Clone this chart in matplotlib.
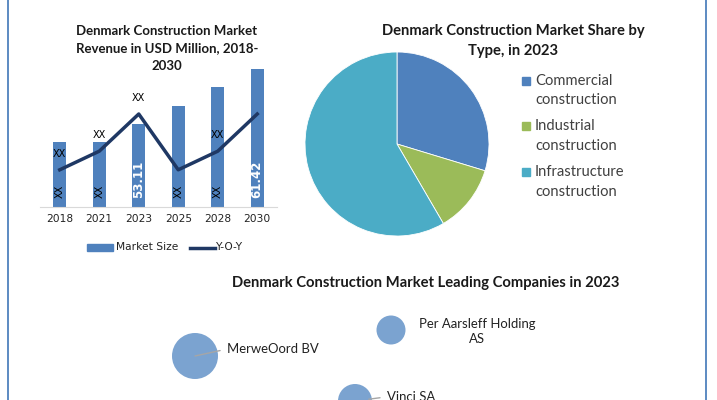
import matplotlib
matplotlib.use("Agg")
import matplotlib.pyplot as plt
from matplotlib.patches import Rectangle, Circle
from matplotlib.lines import Line2D

# ---------------- data ----------------
years = ["2018", "2021", "2023", "2025", "2028", "2030"]
market_size = [50.4, 50.4, 53.11, 55.8, 58.7, 61.42]
yoy = [2.0, 3.0, 5.0, 2.0, 3.0, 5.0]
top_labels = ["XX", "XX", "XX", "", "XX", ""]
bar_labels = ["XX", "XX", "53.11", "XX", "XX", "61.42"]

share_types = ["Commercial\nconstruction", "Industrial\nconstruction", "Infrastructure\nconstruction"]
share_values = [29.7, 11.9, 58.4]
share_colors = ["#4F81BD", "#9BBB59", "#4BACC6"]

companies = ["MerweOord BV", "Per Aarsleff Holding\nAS", "Vinci SA"]
company_x = [0.9, 4.82, 4.1]
company_y = [0.88, 1.4, -0.02]
company_size = [0.46, 0.29, 0.34]

# ---------------- figure ----------------
W, H = 717, 400
fig = plt.figure(figsize=(7.17, 4.0), dpi=100)
fig.patch.set_facecolor("white")
renderer = fig.canvas.get_renderer()

def fx(px):
    return px / W

def fy(py):
    return 1 - py / H

def fit(t, target_w):
    w = t.get_window_extent(renderer).width
    t.set_fontsize(t.get_fontsize() * target_w / w)
    return t

def fit_size(text, target_w, family, weight="normal"):
    t = fig.text(0, 0, text, fontsize=10, family=family, fontweight=weight)
    w = t.get_window_extent(renderer).width
    t.remove()
    return 10 * target_w / w

TITLE_FONT = "Lato"
BODY_FONT = "Lato"
BLUE = "#4F81BD"
NAVY = "#1F3864"

# border lines
for xpx in (7.5, 706):
    fig.add_artist(Line2D([fx(xpx), fx(xpx)], [0, 1], color=BLUE, lw=1.3))

# ---------------- bar + line chart ----------------
ax = fig.add_axes([fx(40), fy(207), 237 / W, 147 / H])
x = list(range(len(years)))
ax.bar(x, market_size, width=0.33, color=BLUE, zorder=2)
ylo = 40.57
ax.set_ylim(ylo, ylo + 147 / 6.62)
ax.set_xlim(-0.5, 5.5)
for s in ("top", "left", "right"):
    ax.spines[s].set_visible(False)
ax.spines["bottom"].set_color("#d9d9d9")
ax.set_yticks([])
ax.set_xticks(x)
ax.set_xticklabels(years, fontsize=7.7, family="DejaVu Sans", color="#222222")
ax.tick_params(axis="x", length=0, pad=5)

for i, lbl in enumerate(bar_labels):
    if lbl == "XX":
        ax.annotate(lbl, (i, ylo), xytext=(0, 6.5), textcoords="offset points",
                    rotation=90, ha="center", va="bottom", fontsize=7,
                    family="DejaVu Sans", color="black", zorder=5)
    else:
        ax.annotate(lbl, (i, ylo), xytext=(0, 6.5), textcoords="offset points",
                    rotation=90, ha="center", va="bottom", fontsize=8.5,
                    fontweight="bold", family="DejaVu Sans", color="white", zorder=5)

ax2 = ax.twinx()
ax2.plot(x, yoy, color=NAVY, lw=2.5, zorder=3)
ax2.set_ylim(0, 147 / 18.6)
ax2.set_yticks([])
for s in ("top", "left", "right", "bottom"):
    ax2.spines[s].set_visible(False)
for i, lbl in enumerate(top_labels):
    if lbl:
        ax2.annotate(lbl, (i, yoy[i]), xytext=(0, 11.5), textcoords="offset points",
                     ha="center", va="center", fontsize=7, family="DejaVu Sans", color="black")

# bar chart title
t1_lines = ["Denmark Construction Market", "Revenue in USD Million, 2018-", "2030"]
t1_y = [31, 48, 66]
fs1 = fit_size(t1_lines[0], 181, TITLE_FONT, "bold")
for ln, yy in zip(t1_lines, t1_y):
    fig.text(fx(167), fy(yy), ln, ha="center", va="center", fontsize=fs1,
             fontweight="bold", family=TITLE_FONT, color="#1a1a1a")

# bar chart legend
fig.add_artist(Rectangle((fx(87), fy(251)), 26 / W, 7 / H, color=BLUE, transform=fig.transFigure))
fig.text(fx(116), fy(247.5), "Market Size", ha="left", va="center", fontsize=7.7,
         family="DejaVu Sans", color="#222222")
fig.add_artist(Line2D([fx(190), fx(215)], [fy(247.5), fy(247.5)], color=NAVY, lw=2.5))
fig.text(fx(216), fy(247.5), "Y-O-Y", ha="left", va="center", fontsize=7.7,
         family="DejaVu Sans", color="#222222")

# ---------------- pie chart ----------------
axp = fig.add_axes([fx(305), fy(236), 184 / W, 184 / H])
axp.pie(share_values, colors=share_colors, startangle=90, counterclock=False,
        wedgeprops=dict(edgecolor="white", linewidth=0.6))
axp.set_xlim(-1, 1)
axp.set_ylim(-1, 1)
axp.set_aspect("equal")

t2_lines = ["Denmark Construction Market Share by", "Type, in 2023"]
fs2 = fit_size(t2_lines[0], 262, TITLE_FONT, "bold")
for ln, yy in zip(t2_lines, [31, 51]):
    fig.text(fx(513), fy(yy), ln, ha="center", va="center", fontsize=fs2,
             fontweight="bold", family=TITLE_FONT, color="#1a1a1a")

leg_y = [81, 126, 172]
leg_fs = fit_size("Commercial", 77, BODY_FONT)
for lbl, col, yy in zip(share_types, share_colors, leg_y):
    fig.add_artist(Rectangle((fx(522), fy(yy + 4)), 8 / W, 8 / H, color=col,
                             transform=fig.transFigure))
    l1, l2 = lbl.split("\n")
    fig.text(fx(535), fy(yy), l1, ha="left", va="center", fontsize=leg_fs,
             family=BODY_FONT, color="#404040")
    fig.text(fx(535), fy(yy + 19.5), l2, ha="left", va="center", fontsize=leg_fs,
             family=BODY_FONT, color="#404040")

# ---------------- bubble chart ----------------
fs3 = fit_size("Denmark Construction Market Leading Companies in 2023", 386, TITLE_FONT, "bold")
fig.text(fx(426), fy(283), "Denmark Construction Market Leading Companies in 2023",
         ha="center", va="center", fontsize=fs3, fontweight="bold",
         family=TITLE_FONT, color="#1a1a1a")

axb = fig.add_axes([fx(150), fy(400), 500 / W, 100 / H])
axb.set_xlim(0, 10)
axb.set_ylim(0, 2)
axb.axis("off")
for cx, cy, r in zip(company_x, company_y, company_size):
    axb.add_patch(Circle((cx, cy), r, facecolor="#7BA3D0", edgecolor="none", clip_on=False))

lab_fs = fit_size(companies[0], 92, BODY_FONT)
# MerweOord BV
axb.annotate(companies[0], (company_x[0], company_y[0]), xytext=(23, 5),
             textcoords="offset points", ha="left", va="center", fontsize=lab_fs,
             family=BODY_FONT, color="#222222",
             arrowprops=dict(arrowstyle="-", color="#a6a6a6", lw=1,
                             shrinkA=3, shrinkB=0, relpos=(0, 0.5)),
             annotation_clip=False)
# Per Aarsleff
axb.annotate(companies[1], (company_x[1], company_y[1]), xytext=(62, -1),
             textcoords="offset points", ha="center", va="center", fontsize=lab_fs,
             family=BODY_FONT, color="#222222", multialignment="center",
             linespacing=1.25, annotation_clip=False)
# Vinci SA
axb.annotate(companies[2], (company_x[2], company_y[2]), xytext=(23, 3),
             textcoords="offset points", ha="left", va="center", fontsize=lab_fs,
             family=BODY_FONT, color="#222222",
             arrowprops=dict(arrowstyle="-", color="#a6a6a6", lw=1,
                             shrinkA=3, shrinkB=10, relpos=(0, 0.5)),
             annotation_clip=False)

fig.savefig("out.png", dpi=100, facecolor="white")
